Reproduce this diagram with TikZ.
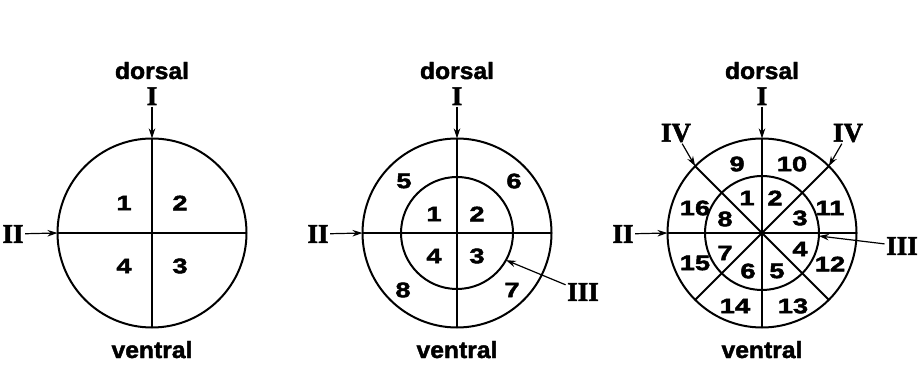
\documentclass[tikz,border=0pt]{standalone}
\usepackage{fontspec}
\newfontfamily\sidefont{Liberation Sans}[FakeStretch=1.05,FakeBold=1.8]
\newfontfamily\numfont{Liberation Sans}[FakeStretch=1.3,FakeBold=2.2]
\newfontfamily\cutfont{Liberation Serif}[FakeBold=2]
\usetikzlibrary{arrows.meta}

\begin{document}
\begin{tikzpicture}[x=1pt,y=1pt,
  wall/.style={line width=2pt},
  pointer/.style={line width=1.2pt,-{Stealth[length=10pt,width=6.5pt]}},
  side/.style={font=\sidefont\bfseries\fontsize{23.5}{24}\selectfont,anchor=base},
  num/.style={font=\numfont\bfseries\fontsize{21}{22}\selectfont,inner sep=0pt},
  cut/.style={font=\cutfont\bfseries\fontsize{27}{28}\selectfont,inner sep=1.5pt}]
  \useasboundingbox (0,0) rectangle (923,364);
  \newcommand{\dialframe}[2]{%
    \begin{scope}[shift={(#2,131)}]
      \coordinate (#1c) at (0,0);
      \coordinate (#1n) at (90:94.5);
      \coordinate (#1s) at (270:94.5);
      \coordinate (#1w) at (180:94.5);
      \coordinate (#1e) at (0:94.5);
      \draw[wall] (#1c) circle (94.5);
      \draw[wall] (#1n) -- (#1s);
      \draw[wall] (#1w) -- (#1e);
      \node[side] (#1dorsal) at (0,154) {dorsal};
      \node[side] (#1ventral) at (0,-125) {ventral};
      \node[cut,anchor=base] (#1I) at (0,128) {I};
      \node[cut] (#1II) at (-139,-1) {II};
      \draw[pointer] (#1I) -- (#1n);
      \draw[pointer] (#1II) -- (#1w);
    \end{scope}}
  % quarters
  \dialframe{a}{152}
  \begin{scope}[shift={(152,131)}]
    \node[num] (a1) at (-28,30) {1};
    \node[num] (a2) at (28,30) {2};
    \node[num] (a3) at (28,-33) {3};
    \node[num] (a4) at (-28,-33) {4};
  \end{scope}
  % two rings
  \dialframe{b}{457}
  \begin{scope}[shift={(457,131)}]
    \draw[wall] (bc) circle (56);
    \coordinate (bring) at (-29:56);
    \node[num] (b1) at (-23,19) {1};
    \node[num] (b2) at (20,19) {2};
    \node[num] (b3) at (20,-23) {3};
    \node[num] (b4) at (-23,-23) {4};
    \node[num] (b5) at (-53,52) {5};
    \node[num] (b6) at (57,52) {6};
    \node[num] (b7) at (55,-57) {7};
    \node[num] (b8) at (-54,-57) {8};
    \node[cut] (bIII) at (126,-59) {III};
    \draw[pointer] (bIII) -- (bring);
  \end{scope}
  % sixteen fields
  \dialframe{c}{762}
  \begin{scope}[shift={(762,131)}]
    \draw[wall] (cc) circle (57);
    \coordinate (cne) at (45:94.5);
    \coordinate (cnw) at (135:94.5);
    \coordinate (csw) at (225:94.5);
    \coordinate (cse) at (315:94.5);
    \coordinate (cring) at (-3:57);
    \draw[wall] (cnw) -- (cse);
    \draw[wall] (cne) -- (csw);
    \node[num] (c1) at (-15,35) {1};
    \node[num] (c2) at (13,35) {2};
    \node[num] (c3) at (38,15) {3};
    \node[num] (c4) at (38,-16) {4};
    \node[num] (c5) at (15,-38) {5};
    \node[num] (c6) at (-14,-38) {6};
    \node[num] (c7) at (-37,-20) {7};
    \node[num] (c8) at (-37,14) {8};
    \node[num] (c9) at (-25,69) {9};
    \node[num] (c10) at (30,69) {10};
    \node[num] (c11) at (68,25) {11};
    \node[num] (c12) at (68,-31) {12};
    \node[num] (c13) at (31,-73) {13};
    \node[num] (c14) at (-27,-73) {14};
    \node[num] (c15) at (-67,-30) {15};
    \node[num] (c16) at (-67,25) {16};
    \node[cut] (cIII) at (140,-13) {III};
    \node[cut] (cIVw) at (-86,100) {IV};
    \node[cut] (cIVe) at (86,100) {IV};
    \draw[pointer] (cIII) -- (cring);
    \draw[pointer] (cIVw) -- (cnw);
    \draw[pointer] (cIVe) -- (cne);
  \end{scope}
\end{tikzpicture}
\end{document}
